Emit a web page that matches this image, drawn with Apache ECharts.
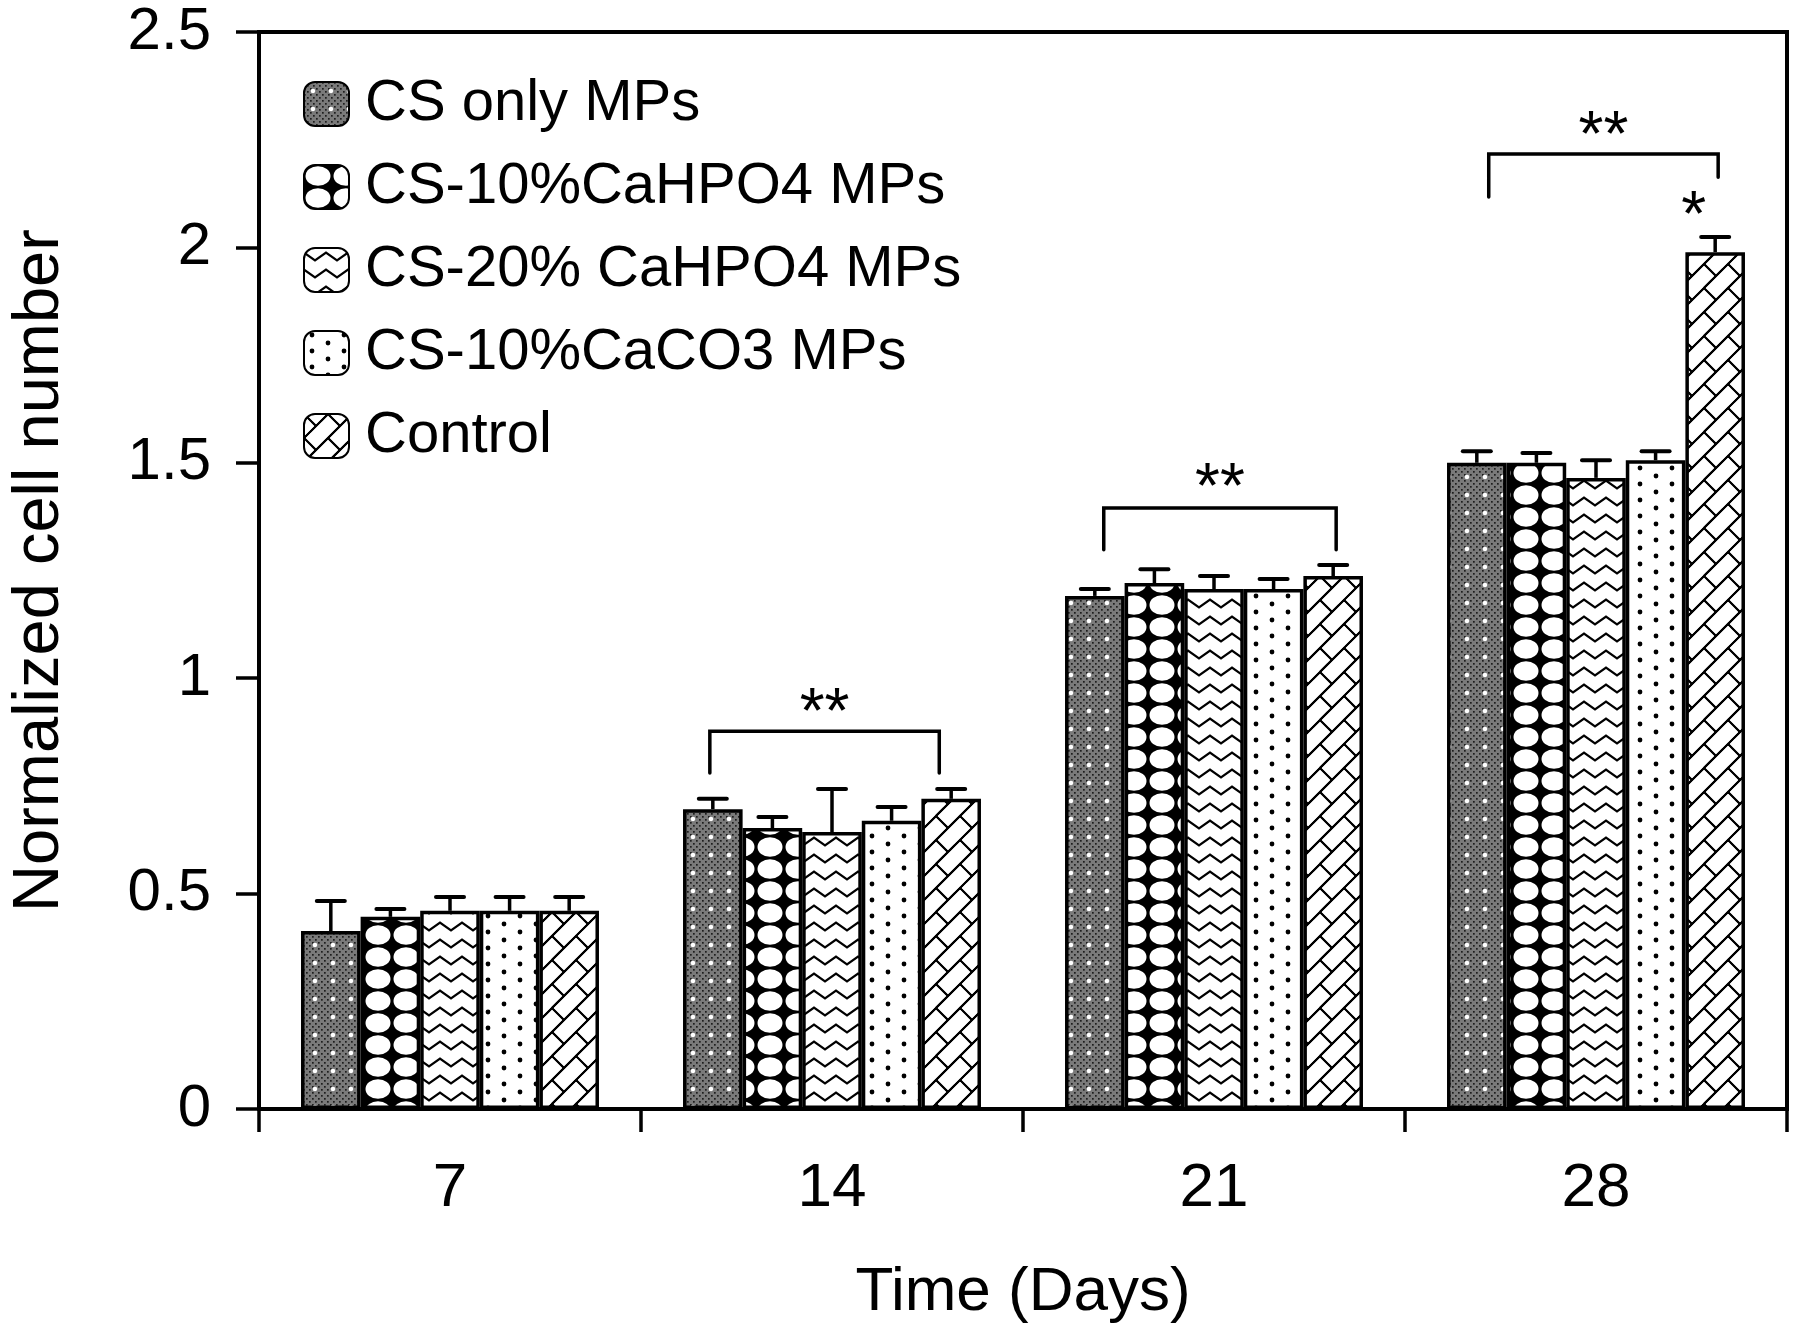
<!DOCTYPE html>
<html>
<head>
<meta charset="utf-8">
<script src="https://cdn.jsdelivr.net/npm/echarts@6/dist/echarts.min.js"></script>
<style>
html,body{margin:0;padding:0;background:#fff;}
#chart{width:1800px;height:1336px;}
</style>
</head>
<body>
<div id="chart"></div>
<script>
// ---------- data ----------
const days = ['7', '14', '21', '28'];
const seriesNames = ['CS only MPs', 'CS-10%CaHPO4 MPs', 'CS-20% CaHPO4 MPs', 'CS-10%CaCO3 MPs', 'Control'];
const csOnly      = [0.413, 0.696, 1.191, 1.500];
const csOnlyErr   = [0.070, 0.024, 0.016, 0.027];
const caHPO4_10   = [0.446, 0.652, 1.221, 1.500];
const caHPO4_10Err= [0.018, 0.026, 0.032, 0.023];
const caHPO4_20   = [0.460, 0.643, 1.207, 1.465];
const caHPO4_20Err= [0.032, 0.100, 0.030, 0.041];
const caCO3_10    = [0.460, 0.669, 1.207, 1.506];
const caCO3_10Err = [0.032, 0.032, 0.023, 0.021];
const control     = [0.460, 0.720, 1.237, 1.989];
const controlErr  = [0.032, 0.023, 0.026, 0.035];
const yTicks = [0, 0.5, 1, 1.5, 2, 2.5];
// significance brackets: [dayIndex, fromBar, toBar, topValue, leftLegValue, rightLegValue, labelValue]
const brackets = [
  [1, 0.45, 4.30, 0.877, 0.780, 0.780, 0.949],
  [2, 0.65, 4.55, 1.395, 1.298, 1.298, 1.472],
  [3, 0.70, 4.55, 2.217, 2.117, 2.163, 2.289]
];
const bracketLabels = ['**', '**', '**'];
// single star marks: [dayIndex, barPosition, value]
const stars = [[3, 4.14, 2.103]];
const starLabels = ['*'];

const values = [csOnly, caHPO4_10, caHPO4_20, caCO3_10, control];
const errs = [csOnlyErr, caHPO4_10Err, caHPO4_20Err, caCO3_10Err, controlErr];

// ---------- patterns ----------
function makeTile(w, h, draw) {
  const c = document.createElement('canvas');
  c.width = w; c.height = h;
  const ctx = c.getContext('2d');
  draw(ctx, w, h);
  return c;
}
function wrapDraw(ctx, w, h, fn) {
  for (let dx = -w; dx <= w; dx += w) for (let dy = -h; dy <= h; dy += h) fn(dx, dy);
}
const pat1 = makeTile(18, 18, (ctx, w, h) => {
  ctx.fillStyle = '#7a7a7a'; ctx.fillRect(0, 0, w, h);
  ctx.fillStyle = '#1e1e1e';
  for (let x = 0; x < w; x += 3) for (let y = 0; y < h; y += 3) {
    if (((x + y) / 3) % 2 === 0) ctx.fillRect(x, y, 1.7, 1.7);
  }
  ctx.fillStyle = '#fff';
  ctx.beginPath(); ctx.arc(9, 9, 2.3, 0, Math.PI * 2); ctx.fill();
});
const pat2 = makeTile(28, 22, (ctx, w, h) => {
  ctx.fillStyle = '#000'; ctx.fillRect(0, 0, w, h);
  ctx.fillStyle = '#fff';
  ctx.beginPath(); ctx.ellipse(w / 2, h / 2, w / 2 - 1.5, h / 2 - 1.2, 0, 0, Math.PI * 2); ctx.fill();
});
const pat3 = makeTile(22, 17, (ctx, w, h) => {
  ctx.fillStyle = '#fff'; ctx.fillRect(0, 0, w, h);
  ctx.strokeStyle = '#000'; ctx.lineWidth = 2.2;
  ctx.beginPath(); ctx.moveTo(-1.4, 3.5); ctx.lineTo(11, 12.5); ctx.lineTo(23.4, 3.5); ctx.stroke();
});
const pat4 = makeTile(32, 16, (ctx, w, h) => {
  ctx.fillStyle = '#fff'; ctx.fillRect(0, 0, w, h);
  ctx.fillStyle = '#000';
  ctx.beginPath(); ctx.arc(8, 4, 2.4, 0, Math.PI * 2); ctx.fill();
  ctx.beginPath(); ctx.arc(24, 12, 2.4, 0, Math.PI * 2); ctx.fill();
});
const pat5 = makeTile(48, 48, (ctx, w, h) => {
  ctx.fillStyle = '#fff'; ctx.fillRect(0, 0, w, h);
  ctx.strokeStyle = '#000'; ctx.lineWidth = 1.8;
  const T = 48, B = 24;
  wrapDraw(ctx, w, h, (dx, dy) => {
    for (let k = 0; k <= 2 * T; k += B) {
      ctx.beginPath(); ctx.moveTo(dx + k - T, dy + T); ctx.lineTo(dx + k, dy); ctx.stroke();
      ctx.beginPath(); ctx.moveTo(dx + k, dy + T); ctx.lineTo(dx + k + T, dy); ctx.stroke();
    }
    for (let band = 0; band < 4; band++) {
      const k = band * B;
      const off = (band % 2) ? 12 : 0;
      [off, off + 24].forEach(t => {
        const x0 = k / 2 + t, y0 = k / 2 - t;
        ctx.beginPath(); ctx.moveTo(dx + x0, dy + y0); ctx.lineTo(dx + x0 + 12, dy + y0 + 12); ctx.stroke();
      });
    }
  });
});
const patterns = [pat1, pat2, pat3, pat4, pat5];

// ---------- chart ----------
const FONT = 'Liberation Sans, Arial, Helvetica, sans-serif';
const GAP = 0.22;
const STAR_FONT = 64;
const chart = echarts.init(document.getElementById('chart'), null, { renderer: 'canvas' });

const barSeries = seriesNames.map((name, i) => ({
  name: name,
  type: 'bar',
  data: values[i],
  barGap: '0%',
  barCategoryGap: (GAP * 100) + '%',
  itemStyle: {
    color: { image: patterns[i], repeat: 'repeat' },
    borderColor: '#000',
    borderWidth: 3.5
  },
  emphasis: { disabled: true },
  z: 2
}));

const errData = [];
values.forEach((vals, si) => vals.forEach((v, ci) => errData.push([ci, si, v, v + errs[si][ci]])));

function slotX(api, cat, slot) {
  const bw = api.size([1, 0])[0];
  const group = bw * (1 - GAP);
  const barW = group / seriesNames.length;
  const cx = api.coord([cat, 0])[0];
  return cx - group / 2 + barW * slot;
}

const errSeries = {
  type: 'custom',
  data: errData,
  encode: { x: 0, y: [2, 3] },
  z: 5,
  silent: true,
  renderItem: function (params, api) {
    const cat = api.value(0), si = api.value(1);
    const x = slotX(api, cat, si + 0.5);
    const y1 = api.coord([cat, api.value(2)])[1];
    const y2 = api.coord([cat, api.value(3)])[1];
    const cap = 14;
    return {
      type: 'group',
      children: [
        { type: 'line', shape: { x1: x, y1: y1, x2: x, y2: y2 }, style: { stroke: '#000', lineWidth: 3.5 } },
        { type: 'line', shape: { x1: x - cap, y1: y2, x2: x + cap, y2: y2 }, style: { stroke: '#000', lineWidth: 4, lineCap: 'round' } }
      ]
    };
  }
};

const bracketSeries = {
  type: 'custom',
  data: brackets,
  encode: { x: 0, y: 3 },
  z: 5,
  silent: true,
  renderItem: function (params, api) {
    const cat = api.value(0);
    const xl = slotX(api, cat, api.value(1));
    const xr = slotX(api, cat, api.value(2));
    const yt = api.coord([cat, api.value(3)])[1];
    const yl = api.coord([cat, api.value(4)])[1];
    const yr = api.coord([cat, api.value(5)])[1];
    const ys = api.coord([cat, api.value(6)])[1];
    return {
      type: 'group',
      children: [
        { type: 'polyline', shape: { points: [[xl, yl], [xl, yt], [xr, yt], [xr, yr]] },
          style: { stroke: '#000', lineWidth: 3.5, fill: null, lineCap: 'round' } },
        { type: 'text', x: (xl + xr) / 2, y: ys + STAR_FONT * 0.24,
          style: { text: bracketLabels[params.dataIndex], font: STAR_FONT + 'px ' + FONT, fill: '#000', align: 'center', verticalAlign: 'middle' } }
      ]
    };
  }
};

const starSeries = {
  type: 'custom',
  data: stars,
  encode: { x: 0, y: 2 },
  z: 5,
  silent: true,
  renderItem: function (params, api) {
    const cat = api.value(0);
    const x = slotX(api, cat, api.value(1));
    const y = api.coord([cat, api.value(2)])[1];
    return { type: 'text', x: x, y: y + STAR_FONT * 0.24,
      style: { text: starLabels[params.dataIndex], font: STAR_FONT + 'px ' + FONT, fill: '#000', align: 'center', verticalAlign: 'middle' } };
  }
};

chart.setOption({
  backgroundColor: '#fff',
  animation: false,
  textStyle: { fontFamily: FONT, color: '#000' },
  grid: {
    left: 255, right: 13, top: 32, bottom: 227,
    containLabel: false,
    show: true, borderColor: '#000', borderWidth: 4, backgroundColor: 'transparent'
  },
  legend: {
    orient: 'vertical',
    left: 298, top: 70,
    itemWidth: 45, itemHeight: 44, itemGap: 25,
    selectedMode: false,
    data: seriesNames,
    textStyle: { fontSize: 58, fontFamily: FONT, color: '#000', lineHeight: 44, padding: [0, 0, 0, 11] }
  },
  xAxis: {
    type: 'category',
    data: days,
    name: 'Time (Days)',
    nameLocation: 'middle',
    nameGap: 153,
    nameTextStyle: { fontSize: 62, fontFamily: FONT, color: '#000', verticalAlign: 'top' },
    axisLine: { lineStyle: { color: '#000', width: 4 } },
    axisTick: { show: true, length: 23, inside: false, lineStyle: { color: '#000', width: 3.5 } },
    axisLabel: { fontSize: 62, fontFamily: FONT, color: '#000', margin: 49 },
    splitLine: { show: false }
  },
  yAxis: {
    type: 'value',
    min: 0, max: 2.5, interval: 0.5,
    name: 'Normalized cell number',
    nameLocation: 'middle',
    nameGap: 186,
    nameRotate: 90,
    nameTextStyle: { fontSize: 65, fontFamily: FONT, color: '#000' },
    axisLine: { show: true, lineStyle: { color: '#000', width: 4 } },
    axisTick: { show: true, length: 23, inside: false, lineStyle: { color: '#000', width: 3.5 } },
    axisLabel: { fontSize: 60, fontFamily: FONT, color: '#000', margin: 48,
      formatter: v => (yTicks.indexOf(v) >= 0 ? String(v) : '') },
    splitLine: { show: false }
  },
  series: barSeries.concat([errSeries, bracketSeries, starSeries])
});
</script>
</body>
</html>
